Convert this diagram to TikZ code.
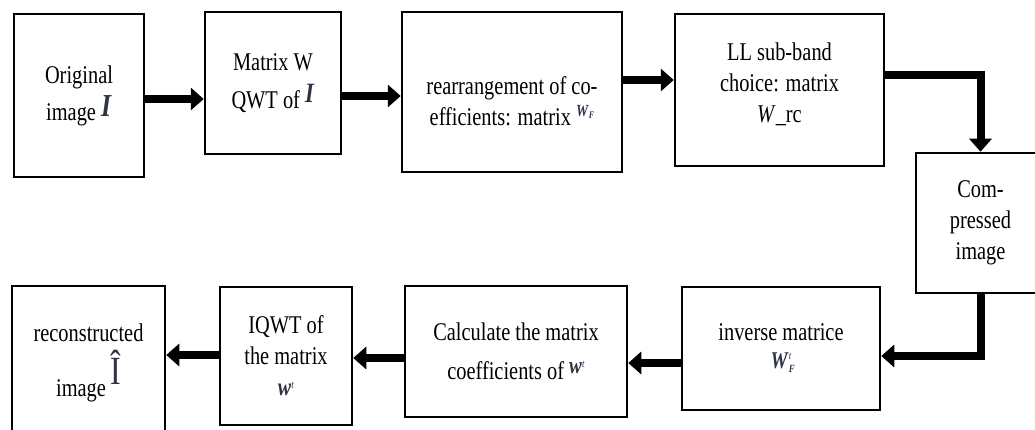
\documentclass[tikz,border=0pt]{standalone}
\usepackage{fontspec}
\setmainfont{Liberation Serif}[FakeStretch=0.8]
\usetikzlibrary{arrows.meta}
\definecolor{symc}{rgb}{0.18,0.2,0.28}
\newcommand{\bi}[1]{\textbf{\textit{#1}}}
\newcommand{\fs}[1]{\fontsize{#1}{#1}\selectfont}
\begin{document}
\begin{tikzpicture}[x=1pt,y=-1pt,
  box/.style={draw, line width=2.5pt, align=center, inner sep=0pt,
    font=\fontsize{25.5}{31}\selectfont},
  arr/.style={line width=8pt, line join=miter,
    -{Triangle[length=13pt,width=22pt]}}]
\useasboundingbox (0,0) rectangle (1035,430);

\node[box, minimum width=130pt, minimum height=163pt] (b1) at (79,95.5)
  {Original\\[6pt]image \raisebox{4pt}{\color{symc}\fs{32}\bi{I}}};
\node[box, minimum width=136pt, minimum height=142pt] (b2) at (273,83)
  {Matrix W\\[7pt]QWT of \raisebox{6pt}{\color{symc}\fs{28}\bi{I}}};
\node[box, minimum width=220pt, minimum height=160pt] (b3) at (512,92)
  {\rule{0pt}{36pt}rearrangement of co-\\efficients: matrix \raisebox{9pt}{\color{symc}\fs{17}\bi{W}\raisebox{-2pt}{\fs{10}\bi{F}}}};
\node[box, minimum width=209pt, minimum height=152pt] (b4) at (779.5,90)
  {LL sub-band\\choice: matrix\\\textit{W}\_rc\rule[-14pt]{0pt}{14pt}};
\node[box, minimum width=129pt, minimum height=140pt] (b5) at (980.5,223)
  {Com-\\pressed\\image};
\node[box, minimum width=198pt, minimum height=123pt] (b6) at (781,348.5)
  {inverse matrice\\[-3pt]{\color{symc}\fs{24}\bi{W}\rlap{\raisebox{-4pt}{\fs{11}\bi{F}}}\raisebox{9pt}{\fs{11}\textit{t}}}};
\node[box, minimum width=222pt, minimum height=131pt] (b7) at (516,351.5)
  {Calculate the matrix\\[8pt]coefficients of \raisebox{6pt}{\color{symc}\fs{24}\bi{w}\raisebox{6pt}{\fs{11}\textit{t}}}};
\node[box, minimum width=132pt, minimum height=138pt] (b8) at (286,356)
  {IQWT of\\the matrix\\{\color{symc}\fs{25}\bi{w}\raisebox{7pt}{\fs{11}\textit{t}}}};
\node[box, minimum width=153pt, minimum height=154pt] (b9) at (88.5,363)
  {reconstructed\\[8pt]image\,\raisebox{12pt}{\color{symc}\fs{40}Î}};

\coordinate (ya1) at (0,99);
\coordinate (ya2) at (0,96);
\coordinate (ya3) at (0,80);
\coordinate (ya4) at (0,75);
\coordinate (ya5) at (0,356);
\coordinate (ya6) at (0,363);
\coordinate (ya7) at (0,358);
\coordinate (ya8) at (0,355);

\draw[arr] (b1.east |- ya1) -- (b2.west |- ya1);
\draw[arr] (b2.east |- ya2) -- (b3.west |- ya2);
\draw[arr] (b3.east |- ya3) -- (b4.west |- ya3);
\draw[arr] (b4.east |- ya4) -| (b5.north);
\draw[arr] (b5.south) |- (b6.east |- ya5);
\draw[arr] (b6.west |- ya6) -- (b7.east |- ya6);
\draw[arr] (b7.west |- ya7) -- (b8.east |- ya7);
\draw[arr] (b8.west |- ya8) -- (b9.east |- ya8);
\end{tikzpicture}
\end{document}
